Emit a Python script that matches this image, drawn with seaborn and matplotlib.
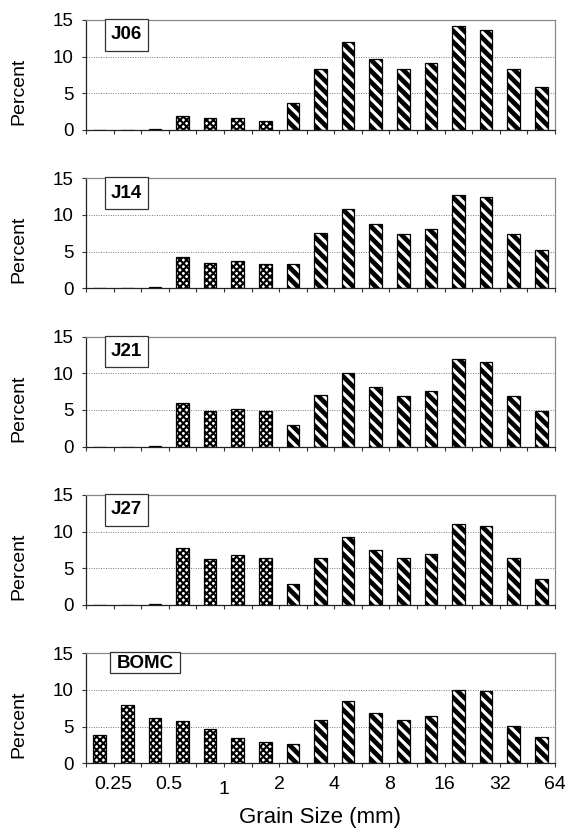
import numpy as np
import pandas as pd
import matplotlib
matplotlib.use("Agg")
import matplotlib.pyplot as plt
import seaborn as sns
from matplotlib.patches import Rectangle

sns.set_theme(style="white")
plt.rcParams["font.family"] = ["Liberation Sans", "DejaVu Sans"]
plt.rcParams.update({"text.color": "black", "axes.labelcolor": "black",
                     "xtick.color": "black", "ytick.color": "black"})

# half-phi size classes, finest to coarsest
bin_index = list(range(17))
texture = ["sand"] * 7 + ["gravel"] * 10
size_labels = ["0.25", "0.5", "1", "2", "4", "8", "16", "32", "64"]
samples = ["J06", "J14", "J21", "J27", "BOMC"]

j06 = [0, 0, 0.2, 1.9, 1.6, 1.6, 1.2, 3.7, 8.3, 12.0, 9.7, 8.3, 9.1, 14.2, 13.7, 8.3, 5.9]
j14 = [0, 0, 0.15, 4.2, 3.5, 3.7, 3.3, 3.3, 7.5, 10.8, 8.7, 7.4, 8.1, 12.7, 12.4, 7.4, 5.2]
j21 = [0, 0, 0.1, 5.9, 4.8, 5.1, 4.9, 3.0, 7.0, 10.0, 8.1, 6.9, 7.6, 11.9, 11.6, 6.9, 4.9]
j27 = [0, 0, 0.1, 7.7, 6.3, 6.8, 6.4, 2.8, 6.4, 9.3, 7.5, 6.4, 7.0, 11.0, 10.7, 6.4, 3.6]
bomc = [3.8, 8.0, 6.1, 5.8, 4.7, 3.4, 2.9, 2.6, 5.9, 8.5, 6.9, 5.9, 6.4, 10.0, 9.8, 5.1, 3.6]
series = [j06, j14, j21, j27, bomc]

W, H = 565, 832
fig = plt.figure(figsize=(W / 100, H / 100), dpi=100)

left_px, right_px = 86, 555
top0, step, h_px = 20, 158.3, 110

hatch_style = {"sand": ("xxxxx", 1.5), "gravel": ("\\\\\\", 3.4)}

for i, (name, vals) in enumerate(zip(samples, series)):
    top = top0 + step * i
    ax = fig.add_axes([left_px / W, 1 - (top + h_px) / H,
                       (right_px - left_px) / W, h_px / H])
    df = pd.DataFrame({"bin": bin_index, "pct": vals, "texture": texture})
    for tex in ["sand", "gravel"]:
        pattern, hlw = hatch_style[tex]
        with plt.rc_context({"hatch.linewidth": hlw}):
            sns.barplot(data=df[df["texture"] == tex], x="bin", y="pct",
                        order=bin_index, color="white", saturation=1,
                        width=0.46, edgecolor="black", linewidth=0.9,
                        hatch=pattern, ax=ax)
            for bar in ax.patches:
                if bar.get_hatch() == pattern and hasattr(bar, "set_hatch_linewidth"):
                    bar.set_hatch_linewidth(hlw)

    ax.set_xlim(-0.5, 16.5)
    ax.set_ylim(0, 15)
    ax.set_yticks([0, 5, 10, 15])
    ax.set_yticklabels(["0", "5", "10", "15"], fontsize=13.5)
    ax.set_xticks(np.arange(-0.5, 17.0, 1.0))
    ax.set_xticklabels([])
    ax.tick_params(axis="x", bottom=True, direction="out", length=3,
                   width=0.8, color="#333333")
    ax.tick_params(axis="y", left=True, direction="out", length=3,
                   width=0.8, color="#333333", pad=6)
    ax.yaxis.grid(True, linestyle=(0, (1, 1.5)), color="#777777", linewidth=0.7)
    ax.set_axisbelow(True)
    for side, sp in ax.spines.items():
        sp.set_visible(True)
        sp.set_linewidth(0.9)
        sp.set_color("#222222" if side in ("left", "bottom") else "#888888")

    ax.set_xlabel("")
    ax.set_ylabel("Percent", fontsize=14)
    ax.yaxis.set_label_coords(-0.125, 0.35)

    # sample name tag
    if name == "BOMC":
        x0, x1, y0, y1, tx, ty = 0.052, 0.200, 0.82, 1.01, 0.126, 0.905
    else:
        x0, x1, y0, y1, tx, ty = 0.040, 0.132, 0.72, 1.01, 0.086, 0.865
    ax.add_patch(Rectangle((x0, y0), x1 - x0, y1 - y0, transform=ax.transAxes,
                           facecolor="white", edgecolor="#333333",
                           linewidth=0.9, clip_on=False, zorder=5))
    ax.text(tx, ty, name, transform=ax.transAxes, ha="center", va="center",
            fontsize=13.5, fontweight="bold", zorder=6)

    if i == len(samples) - 1:
        trans = ax.get_xaxis_transform()
        for k, lab in enumerate(size_labels):
            xpos = 2 * k + 0.5
            ypos = -0.236 if lab == "1" else -0.19
            ax.text(xpos, ypos, lab, transform=trans, ha="center",
                    va="center", fontsize=14)

fig.text(320 / W, 1 - 818 / H, "Grain Size (mm)", ha="center", va="center",
         fontsize=16)

fig.savefig("out.png", dpi=100, facecolor="white")
